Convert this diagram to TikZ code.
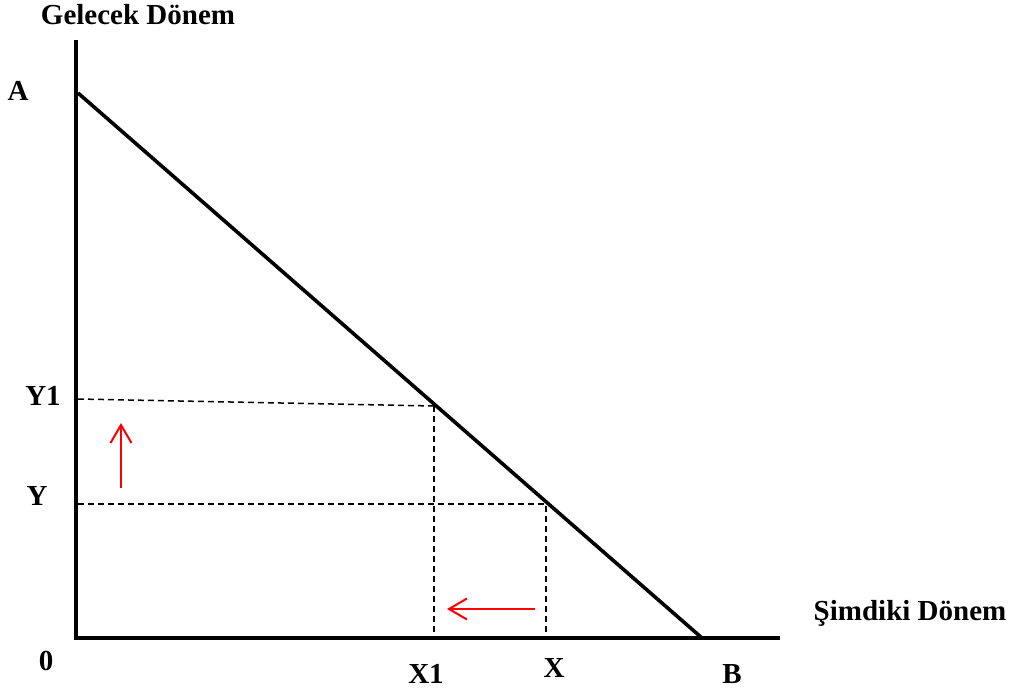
\documentclass[tikz,border=0pt]{standalone}
\usepackage{fontspec}
\setmainfont{Liberation Serif}
\usetikzlibrary{arrows.meta}
\begin{document}
\begin{tikzpicture}[x=1pt,y=-1pt,
  lbl/.style={font=\fontsize{29}{32}\selectfont\bfseries, anchor=base, inner sep=0pt},
  axis/.style={line width=4pt},
  budget/.style={line width=3.6pt},
  guide/.style={line width=1.5pt, dash pattern=on 6pt off 4pt},
  redarrow/.style={red, line width=2pt, -{Straight Barb[length=18pt,width=21pt,line width=2pt]}}]
\useasboundingbox (0,0) rectangle (1016,693);
% coordinates
\coordinate (top) at (76,40);
\coordinate (O) at (76,638);
\coordinate (right) at (780,638);
\coordinate (A) at (78,93);
\coordinate (B) at (702,638);
\coordinate (P1) at (434,406);
\coordinate (P) at (547,504);
\coordinate (Y1l) at (78,399);
\coordinate (Yl) at (78,504);
\coordinate (X1b) at (434,638);
\coordinate (Xb) at (546,638);
\coordinate (Xt) at (546,506);
\coordinate (ua) at (121,488);
\coordinate (ub) at (121,423);
\coordinate (la) at (535,609);
\coordinate (lb) at (447,609);
% guides
\draw[guide] (Y1l) -- (P1);
\draw[guide] (P1) -- (X1b);
\draw[guide] (Yl) -- (P);
\draw[guide] (Xt) -- (Xb);
% axes
\draw[axis] (top) -- (O) -- (right);
% budget line
\draw[budget] (A) -- (B);
% shifts
\draw[redarrow] (ua) -- (ub);
\draw[redarrow] (la) -- (lb);
% labels
\node[lbl] (ylab) at (138,25) {Gelecek Dönem};
\node[lbl] (xlab) at (910,620) {Şimdiki Dönem};
\node[lbl] (Alab) at (18,100) {A};
\node[lbl] (Y1lab) at (43,405) {Y1};
\node[lbl] (Ylab) at (37,505) {Y};
\node[lbl] (Olab) at (46,670) {0};
\node[lbl] (X1lab) at (426,683) {X1};
\node[lbl] (Xlab) at (554,677) {X};
\node[lbl] (Blab) at (732,683) {B};
\end{tikzpicture}
\end{document}
